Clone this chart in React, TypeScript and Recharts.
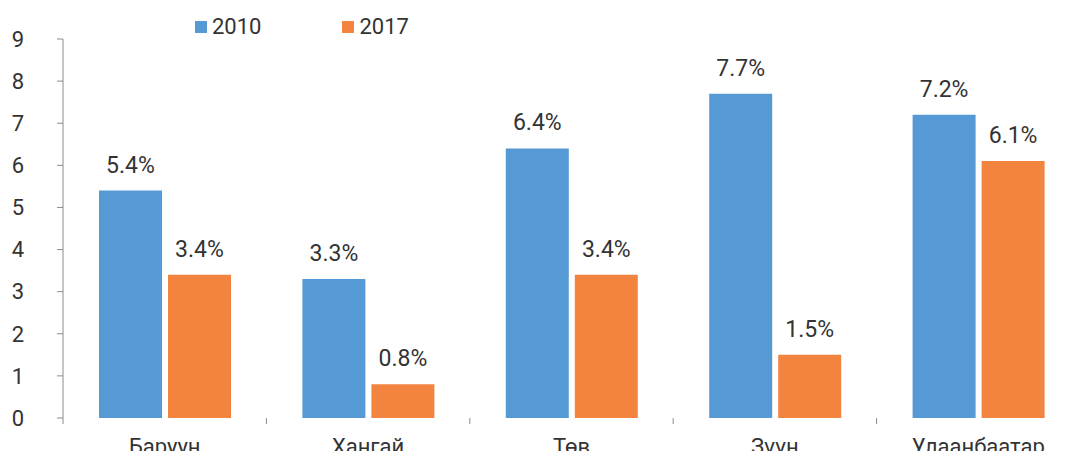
import React from 'react';
import { BarChart, Bar, XAxis, YAxis, LabelList } from 'recharts';

const regions = ['Баруун', 'Хангай', 'Төв', 'Зүүн', 'Улаанбаатар'];
const values2010 = [5.4, 3.3, 6.4, 7.7, 7.2];
const values2017 = [3.4, 0.8, 3.4, 1.5, 6.1];
const yTicks = [0, 1, 2, 3, 4, 5, 6, 7, 8, 9];

const BLUE = '#559ad4';
const ORANGE = '#f28440';
const TEXT = '#333333';
const FONT = 'Roboto, "Noto Sans", sans-serif';

const data = regions.map((name, i) => ({ name, y2010: values2010[i], y2017: values2017[i] }));

const CHART_W = 1100;
const MARGIN_L = 0;
const MARGIN_R = 20;
const Y_W = 63;
const BAND = (CHART_W - MARGIN_L - MARGIN_R - Y_W) / regions.length;
const PLOT_BOTTOM = 418;

// category label plus the short separator ticks between groups
const CategoryTick = (props: any) => {
  const { x, payload, index } = props;
  return (
    <g>
      {index === 0 && <line x1={x - BAND / 2} x2={x - BAND / 2} y1={PLOT_BOTTOM} y2={PLOT_BOTTOM + 6} stroke="#8c8c8c" />}
      <line x1={x + BAND / 2} x2={x + BAND / 2} y1={PLOT_BOTTOM} y2={PLOT_BOTTOM + 6} stroke="#8c8c8c" />
      <text x={x} y={454} textAnchor="middle" fontSize={22} fill={TEXT} fontFamily={FONT}>
        {payload.value}
      </text>
    </g>
  );
};

const pct = (v: any) => `${Number(v).toFixed(1)}%`;

export default function App() {
  return (
    <div style={{ position: 'relative', width: 1070, height: 459, overflow: 'hidden', margin: -8, background: '#fff' }}>
      <div style={{ position: 'absolute', left: 195, top: 14, display: 'flex', alignItems: 'center', fontFamily: FONT, fontSize: 22, color: TEXT }}>
        <span style={{ width: 12, height: 12, background: BLUE, display: 'inline-block', marginRight: 5 }} />
        <span>2010</span>
        <span style={{ width: 12, height: 12, background: ORANGE, display: 'inline-block', marginLeft: 81, marginRight: 5 }} />
        <span>2017</span>
      </div>
      <BarChart
        width={CHART_W}
        height={480}
        data={data}
        margin={{ top: 39, right: MARGIN_R, bottom: 22, left: MARGIN_L }}
        barGap={6}
        barSize={63}
      >
        <XAxis dataKey="name" axisLine={false} tickLine={false} height={40} tick={<CategoryTick />} interval={0} />
        <YAxis
          domain={[0, 9]}
          ticks={yTicks}
          width={Y_W}
          axisLine={{ stroke: '#8c8c8c' }}
          tickLine={{ stroke: '#8c8c8c' }}
          tickSize={6}
          tickMargin={33}
          tick={{ fontSize: 22, fill: TEXT, fontFamily: FONT }}
        />
        <Bar dataKey="y2010" fill={BLUE} isAnimationActive={false}>
          <LabelList dataKey="y2010" position="top" offset={18} formatter={pct} fontSize={23} fill={TEXT} fontFamily={FONT} />
        </Bar>
        <Bar dataKey="y2017" fill={ORANGE} isAnimationActive={false}>
          <LabelList dataKey="y2017" position="top" offset={18} formatter={pct} fontSize={23} fill={TEXT} fontFamily={FONT} />
        </Bar>
      </BarChart>
    </div>
  );
}
